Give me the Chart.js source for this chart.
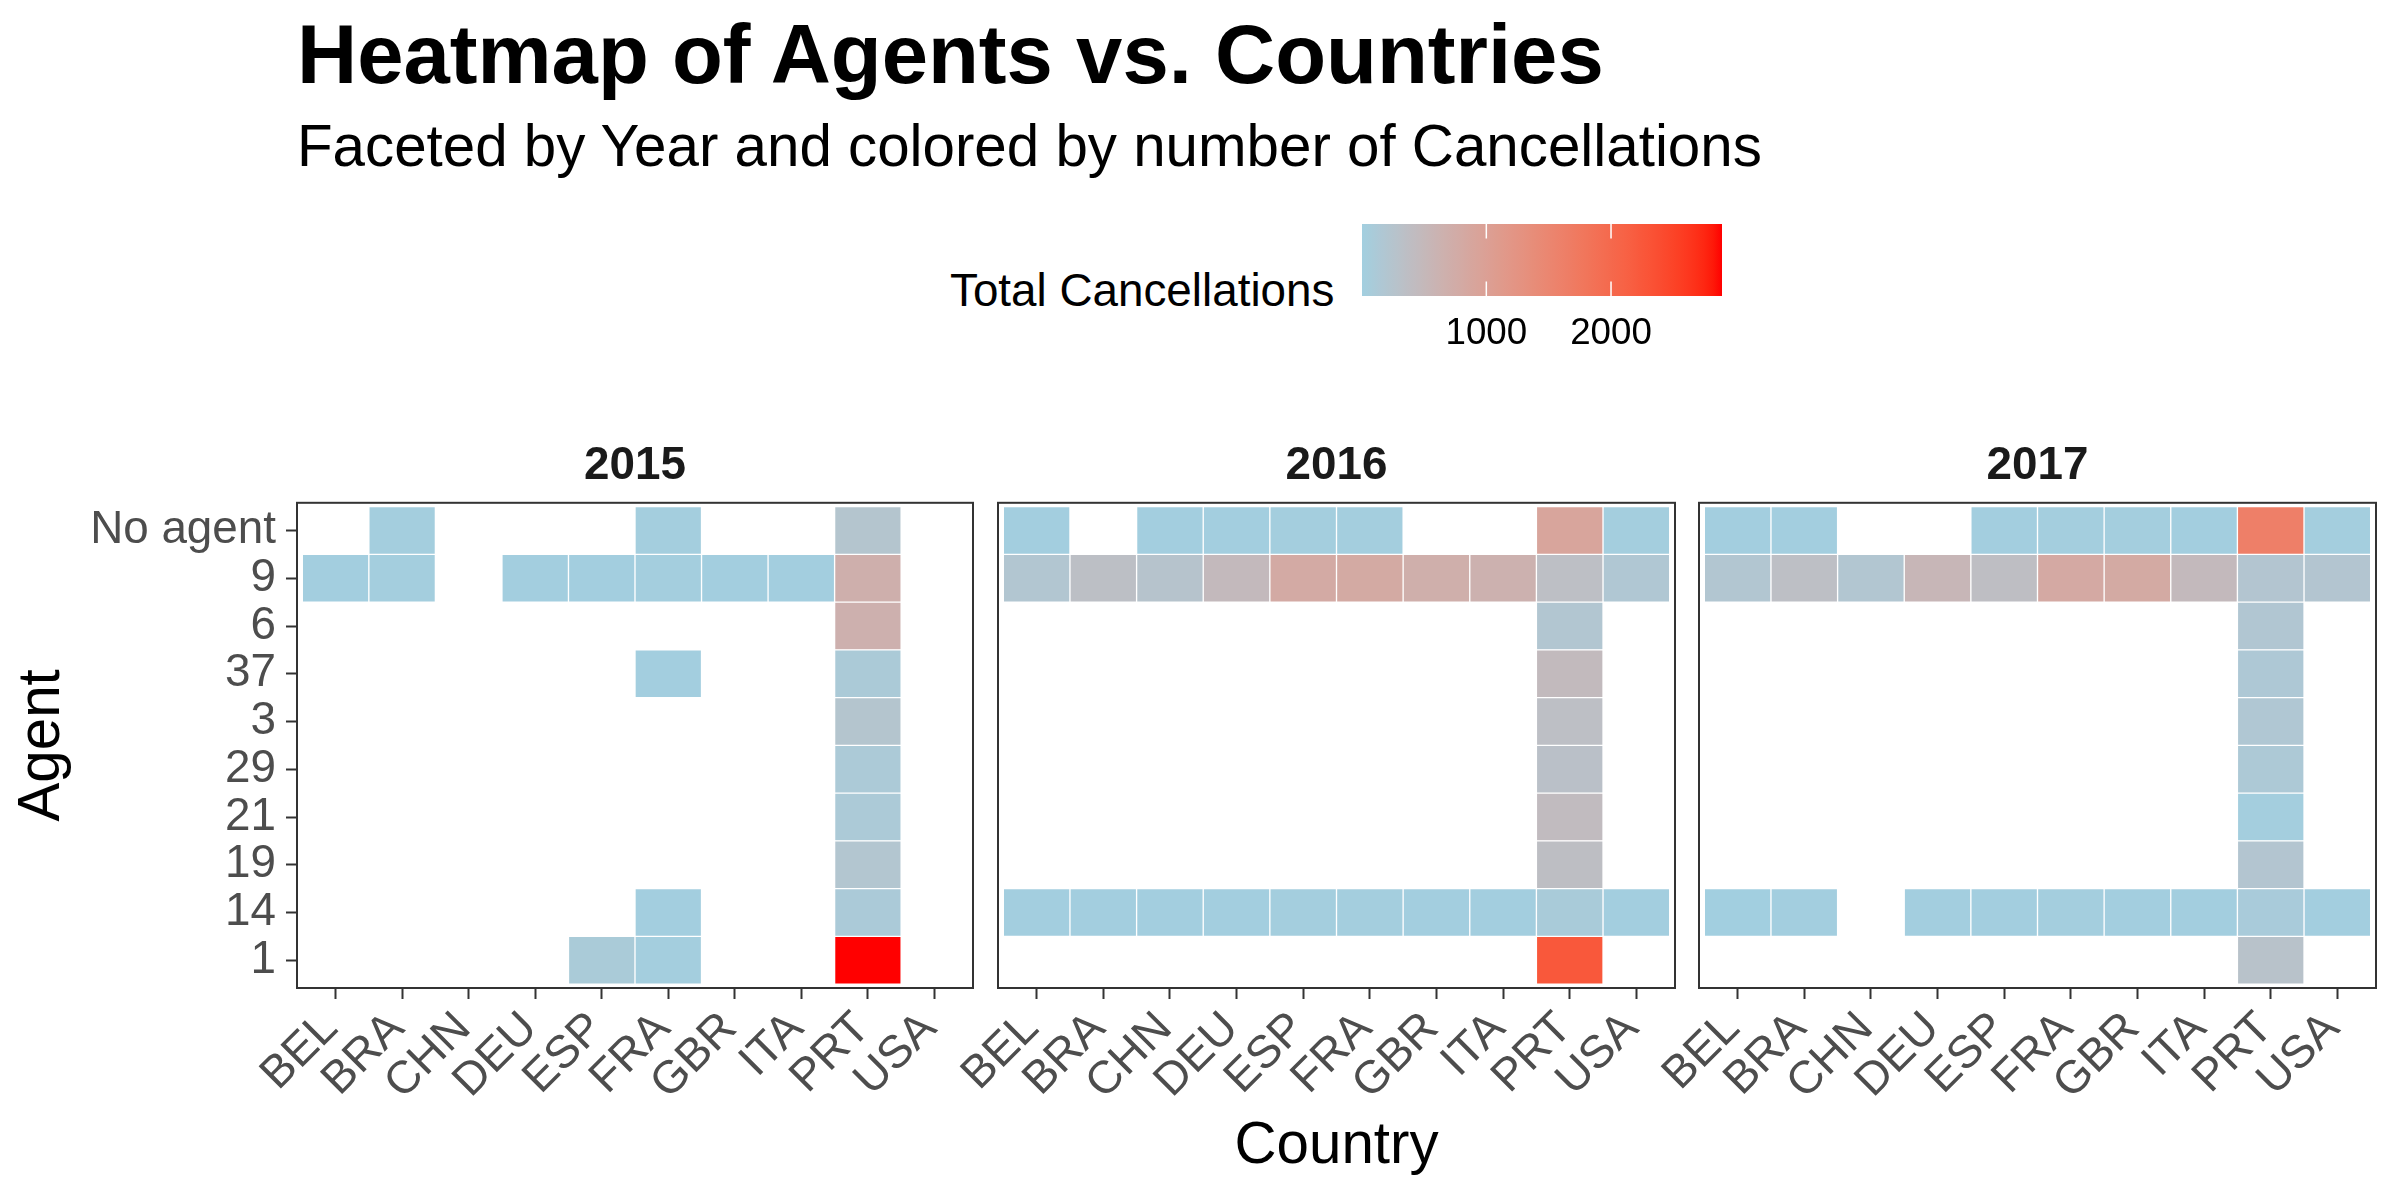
<!DOCTYPE html>
<html><head><meta charset="utf-8">
<script src="https://cdn.jsdelivr.net/npm/chart.js@4.4.1/dist/chart.umd.min.js"></script>
<style>
html,body{margin:0;padding:0;background:#fff;}
#wrap{position:relative;width:2400px;height:1200px;overflow:hidden;font-family:'Liberation Sans',Arial,Helvetica,sans-serif;}
canvas{position:absolute;}
.t{position:absolute;white-space:nowrap;color:#000;}
</style></head><body>
<div id="wrap">
<div class="t" style="left:297px;top:13px;font-size:83.3px;line-height:83.3px;font-weight:bold;">Heatmap of Agents vs. Countries</div>
<div class="t" style="left:297px;top:117px;font-size:58.3px;line-height:58.3px;">Faceted by Year and colored by number of Cancellations</div>
<div class="t" style="left:950px;top:268px;font-size:45.8px;line-height:45.8px;">Total Cancellations</div>
<canvas id="p0" width="990" height="800" style="left:0px;top:400px;"></canvas>
<canvas id="p1" width="790" height="800" style="left:900px;top:400px;"></canvas>
<canvas id="p2" width="800" height="800" style="left:1600px;top:400px;"></canvas>
<canvas id="leg" width="500" height="200" style="left:1300px;top:180px;"></canvas>
</div>
<script>
// ---------------- data ----------------
const countries = ['BEL','BRA','CHN','DEU','ESP','FRA','GBR','ITA','PRT','USA'];
const agents = ['No agent','9','6','37','3','29','21','19','14','1']; // top to bottom
const years = ['2015','2016','2017'];
const N = null;
const values2015 = [
  [N,25,N,N,N,30,N,N,230,N],
  [20,25,N,15,20,30,20,15,680,N],
  [N,N,N,N,N,N,N,N,660,N],
  [N,N,N,N,N,20,N,N,115,N],
  [N,N,N,N,N,N,N,N,230,N],
  [N,N,N,N,N,N,N,N,120,N],
  [N,N,N,N,N,N,N,N,120,N],
  [N,N,N,N,N,N,N,N,210,N],
  [N,N,N,N,N,15,N,N,110,N],
  [N,N,N,N,100,30,N,N,2890,N]
];
const values2016 = [
  [20,N,15,20,25,25,N,N,900,25],
  [200,350,260,470,790,800,700,640,360,175],
  [N,N,N,N,N,N,N,N,200,N],
  [N,N,N,N,N,N,N,N,460,N],
  [N,N,N,N,N,N,N,N,360,N],
  [N,N,N,N,N,N,N,N,320,N],
  [N,N,N,N,N,N,N,N,430,N],
  [N,N,N,N,N,N,N,N,375,N],
  [15,20,15,20,25,25,20,20,90,20],
  [N,N,N,N,N,N,N,N,2250,N]
];
const values2017 = [
  [20,20,N,N,20,25,25,20,1620,25],
  [200,360,200,540,380,810,800,470,215,215],
  [N,N,N,N,N,N,N,N,190,N],
  [N,N,N,N,N,N,N,N,150,N],
  [N,N,N,N,N,N,N,N,175,N],
  [N,N,N,N,N,N,N,N,135,N],
  [N,N,N,N,N,N,N,N,30,N],
  [N,N,N,N,N,N,N,N,215,N],
  [3,15,N,20,20,30,20,15,80,20],
  [N,N,N,N,N,N,N,N,290,N]
];
const legendTicks = [1000, 2000];
const lowColor = '#A2CFE0';
const highColor = '#FF0000';

// ---------------- colour ramp (CIELAB like ggplot) ----------------
function hexToRgb(h){h=h.replace('#','');return [0,2,4].map(i=>parseInt(h.substr(i,2),16));}
function s2l(c){c/=255;return c<=0.04045?c/12.92:Math.pow((c+0.055)/1.055,2.4);}
function l2s(c){c=c<=0.0031308?12.92*c:1.055*Math.pow(c,1/2.4)-0.055;return Math.round(Math.min(1,Math.max(0,c))*255);}
const Xn=0.95047,Yn=1,Zn=1.08883;
function rgbToLab(rgb){const [r,g,b]=rgb.map(s2l);
  const X=0.4124564*r+0.3575761*g+0.1804375*b,Y=0.2126729*r+0.7151522*g+0.0721750*b,Z=0.0193339*r+0.1191920*g+0.9503041*b;
  const f=t=>t>0.008856?Math.cbrt(t):(7.787*t+16/116);
  const fx=f(X/Xn),fy=f(Y/Yn),fz=f(Z/Zn);return [116*fy-16,500*(fx-fy),200*(fy-fz)];}
function labToRgb(lab){const [L,a,b]=lab;const fy=(L+16)/116,fx=fy+a/500,fz=fy-b/200;
  const fi=t=>t>0.206893?t*t*t:(t-16/116)/7.787;
  const X=Xn*fi(fx),Y=Yn*fi(fy),Z=Zn*fi(fz);
  return [l2s(3.2404542*X-1.5371385*Y-0.4985314*Z),l2s(-0.9692660*X+1.8760108*Y+0.0415560*Z),l2s(0.0556434*X-0.2040259*Y+1.0572252*Z)];}
const labLow=rgbToLab(hexToRgb(lowColor)), labHigh=rgbToLab(hexToRgb(highColor));
const allVals=[values2015,values2016,values2017].flat(2).filter(v=>v!==null);
const vmin=Math.min(...allVals), vmax=Math.max(...allVals);
function rampT(t){t=Math.max(0,Math.min(1,t));const c=labToRgb(labLow.map((l,i)=>l+(labHigh[i]-l)*t));return 'rgb('+c.join(',')+')';}
function colorFor(v){return rampT((v-vmin)/(vmax-vmin));}

// ---------------- charts ----------------
Chart.defaults.font.family="'Liberation Sans', Arial, Helvetica, sans-serif";
Chart.defaults.animation=false;
const PAD=0.58;
const nRows=agents.length;

function cellsFor(vals){
  const out=[];
  vals.forEach((row,r)=>row.forEach((v,c)=>{ if(v!==null){ const yi=nRows-1-r; out.push({x:c,y:[yi-0.5,yi+0.5],v:v}); } }));
  return out;
}
const borderPlugin={id:'panelBorder',afterDatasetsDraw(chart){const a=chart.chartArea,ctx=chart.ctx;ctx.save();ctx.strokeStyle='#333333';ctx.lineWidth=2;ctx.strokeRect(a.left,a.top,a.right-a.left,a.bottom-a.top);ctx.restore();}};

function makePanel(id, year, vals, idx){
  const gridOpts={display:true,drawOnChartArea:false,drawTicks:true,tickLength:11,tickColor:'#333333',tickWidth:2,offset:false};
  const padLeft=[0,98,99][idx], padRight=[17,15,24][idx];
  new Chart(document.getElementById(id),{
    type:'bar',
    data:{datasets:[{data:cellsFor(vals),
      backgroundColor:(ctx)=>ctx.raw?colorFor(ctx.raw.v):'#fff',
      borderColor:'#ffffff',borderWidth:1,borderSkipped:false,
      barPercentage:1,categoryPercentage:1,grouped:false}]},
    options:{
      responsive:false,devicePixelRatio:1,events:[],
      layout:{padding:{left:padLeft,right:padRight,top:0,bottom:0}},
      plugins:{legend:{display:false},tooltip:{enabled:false},
        title:{display:true,text:year,fullSize:false,color:'#1a1a1a',font:{size:45.8,weight:'bold',lineHeight:1},padding:{top:43,bottom:14}}},
      scales:{
        x:{type:'linear',offset:false,min:-PAD,max:countries.length-1+PAD,
          afterFit:(s)=>{s.height=212;},
          ticks:{stepSize:1,includeBounds:false,autoSkip:false,minRotation:45,maxRotation:45,labelOffset:-5,
            callback:(v)=>countries[Math.round(v)]??'',
            font:{size:45.8,lineHeight:1},color:'#4d4d4d',padding:6},
          grid:gridOpts,border:{display:false},
          title:{display:idx===1,text:'Country',color:'#000',font:{size:58.3,lineHeight:1.2},padding:{top:0,bottom:18}}},
        y:{type:'linear',offset:false,min:-PAD,max:nRows-1+PAD,display:idx===0,
          afterFit:(s)=>{ if(idx===0) s.width=297; else s.width=0; },
          ticks:{stepSize:1,includeBounds:false,autoSkip:false,
            callback:(v)=>agents[nRows-1-Math.round(v)]??'',
            font:{size:45.8,lineHeight:1},color:'#4d4d4d',padding:10},
          grid:gridOpts,border:{display:false},
          title:{display:idx===0,text:'Agent',color:'#000',font:{size:58.3,lineHeight:1.2},padding:{top:8,bottom:0}}}
      }
    },
    plugins:[borderPlugin]
  });
}
makePanel('p0',years[0],values2015,0);
makePanel('p1',years[1],values2016,1);
makePanel('p2',years[2],values2017,2);

// ---------------- colour bar legend ----------------
const barTicksPlugin={id:'barTicks',afterDatasetsDraw(chart){
  const a=chart.chartArea,ctx=chart.ctx,x=chart.scales.x,h=(a.bottom-a.top)/5;
  ctx.save();ctx.strokeStyle='#ffffff';ctx.lineWidth=1.5;
  legendTicks.forEach(v=>{const px=x.getPixelForValue(v);ctx.beginPath();ctx.moveTo(px,a.top);ctx.lineTo(px,a.top+h);ctx.moveTo(px,a.bottom-h);ctx.lineTo(px,a.bottom);ctx.stroke();});
  ctx.restore();}};
new Chart(document.getElementById('leg'),{
  type:'bar',
  data:{labels:[''],datasets:[{data:[[vmin,vmax]],borderWidth:0,barPercentage:1,categoryPercentage:1,
    backgroundColor:(ctx)=>{const ch=ctx.chart,a=ch.chartArea;
      if(!a||!isFinite(a.left)||!isFinite(a.right)||a.right<=a.left) return lowColor;
      const g=ch.ctx.createLinearGradient(a.left,0,a.right,0);
      for(let i=0;i<=40;i++){g.addColorStop(i/40,rampT(i/40));}return g;}}]},
  options:{indexAxis:'y',responsive:false,devicePixelRatio:1,events:[],
    layout:{padding:{left:62,right:78,top:44,bottom:24}},
    plugins:{legend:{display:false},tooltip:{enabled:false}},
    scales:{
      x:{type:'linear',min:vmin,max:vmax,afterFit:(s)=>{s.height=60;},
        afterBuildTicks:(s)=>{s.ticks=legendTicks.map(v=>({value:v}));},
        ticks:{callback:(v)=>String(v),font:{size:36.7,lineHeight:1},color:'#000',padding:20,autoSkip:false,maxRotation:0},
        grid:{display:false,drawTicks:false},border:{display:false}},
      y:{display:false}
    }},
  plugins:[barTicksPlugin]
});
</script>
</body></html>
